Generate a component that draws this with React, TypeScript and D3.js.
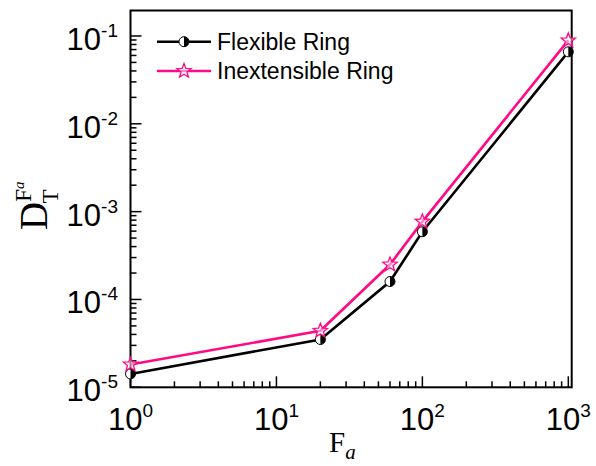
import React from "react";
import * as d3 from "d3";

const forceValues = [1, 20, 60, 100, 1000];
const flexibleRing = [1.42e-5, 3.5e-5, 1.6e-4, 5.9e-4, 0.066];
const inextensibleRing = [1.82e-5, 4.4e-5, 2.5e-4, 7.7e-4, 0.089];
const xTickExps = [0, 1, 2, 3];
const yTickExps = [-5, -4, -3, -2, -1];
const seriesNames = ["Flexible Ring", "Inextensible Ring"];

const W = 596;
const H = 466;
const M = { left: 130.5, right: 571.7, top: 10.5, bottom: 387.3 };
const PINK = "#ff0a84";

function starPath(cx: number, cy: number, R: number, r: number) {
  const pts: string[] = [];
  for (let i = 0; i < 10; i++) {
    const ang = -Math.PI / 2 + (i * Math.PI) / 5;
    const rad = i % 2 === 0 ? R : r;
    pts.push(`${(cx + rad * Math.cos(ang)).toFixed(2)},${(cy + rad * Math.sin(ang)).toFixed(2)}`);
  }
  return "M" + pts.join("L") + "Z";
}

function HalfCircle({ cx, cy, r }: { cx: number; cy: number; r: number }) {
  return (
    <g>
      <circle cx={cx} cy={cy} r={r} fill="white" stroke="black" strokeWidth={1} />
      <path d={`M${cx},${cy - r} A${r},${r} 0 0 1 ${cx},${cy + r} Z`} fill="black" />
    </g>
  );
}

export default function App() {
  const x = d3.scaleLog().domain([1, 1055]).range([M.left, M.right]);
  const y = d3.scaleLog().domain([1e-5, 0.195]).range([M.bottom, M.top]);

  const line = d3
    .line<[number, number]>()
    .x((d) => x(d[0]))
    .y((d) => y(d[1]));

  const flexData: [number, number][] = forceValues.map((f, i) => [f, flexibleRing[i]]);
  const inexData: [number, number][] = forceValues.map((f, i) => [f, inextensibleRing[i]]);

  const xMinor: number[] = [];
  for (let e = 0; e < 3; e++) for (let k = 2; k <= 9; k++) xMinor.push(k * Math.pow(10, e));
  const yMinor: number[] = [];
  for (let e = -5; e < 0; e++) for (let k = 2; k <= 9; k++) {
    const v = k * Math.pow(10, e);
    if (v <= 0.195) yMinor.push(v);
  }

  const tickFont = "'Liberation Sans', Arial, sans-serif";
  const serif = "'Liberation Serif', 'Times New Roman', serif";

  return (
    <svg width={W} height={H} style={{ position: "fixed", left: 0, top: 0, background: "white" }}>
      <rect x={0} y={0} width={W} height={H} fill="white" />
      <g stroke="black" strokeWidth={1.5}>
        {xTickExps.map((e) => (
          <line key={"xM" + e} x1={x(Math.pow(10, e))} x2={x(Math.pow(10, e))} y1={M.bottom} y2={M.bottom - 11} />
        ))}
        {xMinor.map((v) => (
          <line key={"xm" + v} x1={x(v)} x2={x(v)} y1={M.bottom} y2={M.bottom - 6} />
        ))}
        {yTickExps.map((e) => (
          <line key={"yM" + e} x1={M.left} x2={M.left + 11} y1={y(Math.pow(10, e))} y2={y(Math.pow(10, e))} />
        ))}
        {yMinor.map((v) => (
          <line key={"ym" + v} x1={M.left} x2={M.left + 6} y1={y(v)} y2={y(v)} />
        ))}
      </g>
      <rect
        x={M.left}
        y={M.top}
        width={M.right - M.left}
        height={M.bottom - M.top}
        fill="none"
        stroke="black"
        strokeWidth={2}
      />
      <path d={line(flexData) || ""} fill="none" stroke="black" strokeWidth={2.6} />
      <path d={line(inexData) || ""} fill="none" stroke={PINK} strokeWidth={2.6} />
      {flexData.map((d, i) => (
        <HalfCircle key={"c" + i} cx={x(d[0])} cy={y(d[1])} r={5} />
      ))}
      {inexData.map((d, i) => (
        <path key={"s" + i} d={starPath(x(d[0]), y(d[1]), 7.5, 3.2)} fill="white" fillOpacity={0.5} stroke={PINK} strokeWidth={1.3} />
      ))}
      {xTickExps.map((e) => (
        <text key={"xl" + e} x={x(Math.pow(10, e))} y={430} textAnchor="middle" fontFamily={tickFont} fontSize={31} fill="black">
          10
          <tspan fontSize={19} dy={-13}>{e}</tspan>
        </text>
      ))}
      {yTickExps.map((e) => (
        <text key={"yl" + e} x={118} y={y(Math.pow(10, e)) + 14} textAnchor="end" fontFamily={tickFont} fontSize={31} fill="black">
          10
          <tspan fontSize={19} dy={-13}>{e}</tspan>
        </text>
      ))}
      <text x={329} y={452} fontFamily={serif} fontSize={29} fill="black">
        F<tspan fontSize={21} fontStyle="italic" dy={7}>a</tspan>
      </text>
      <text transform="translate(47,230) rotate(-90)" fontFamily={serif} fontSize={39} fill="black">
        D
        <tspan fontSize={23} dy={-16}>F</tspan>
        <tspan fontSize={15} fontStyle="italic" dy={-7}>a</tspan>
        <tspan fontSize={23} dx={-22} dy={34}>T</tspan>
      </text>
      <line x1={157} x2={211} y1={41.7} y2={41.7} stroke="black" strokeWidth={2.6} />
      <HalfCircle cx={184} cy={41.7} r={5} />
      <text x={217} y={49.8} fontFamily={tickFont} fontSize={23} fill="black">{seriesNames[0]}</text>
      <line x1={157} x2={211} y1={71} y2={71} stroke={PINK} strokeWidth={2.6} />
      <path d={starPath(184, 71, 7.5, 3.2)} fill="white" fillOpacity={0.5} stroke={PINK} strokeWidth={1.3} />
      <text x={217} y={79.1} fontFamily={tickFont} fontSize={23} fill="black">{seriesNames[1]}</text>
    </svg>
  );
}
